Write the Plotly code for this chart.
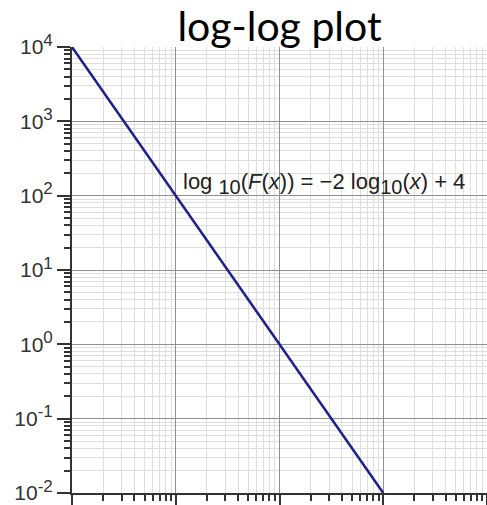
import numpy as np
import plotly.graph_objects as go

# F(x) = 10^4 / x^2 sampled at the decade points
x_vals = [1, 10, 100, 1000]
f_vals = [1e4, 1e2, 1e0, 1e-2]

y_tickvals = [1e-2, 1e-1, 1e0, 1e1, 1e2, 1e3, 1e4]
y_exponents = ["-2", "-1", "0", "1", "2", "3", "4"]
y_ticktext = ["10<sup><span style='font-size:17px'>%s</span></sup>" % e for e in y_exponents]


def sub(s):
    return "<sub><span style='font-size:20px'>%s</span></sub>" % s


eq_text = ("log " + sub("10") + "(<i>F</i>(<i>x</i>)) = −2 log" + sub("10")
           + "(<i>x</i>) + 4")

fig = go.Figure()
fig.add_trace(go.Scatter(x=x_vals, y=f_vals, mode="lines",
                         line=dict(color="#1f1f8f", width=2.5), showlegend=False))

fig.add_annotation(x=np.log10(11.2), y=np.log10(148), xref="x", yref="y",
                   text=eq_text, showarrow=False, xanchor="left",
                   font=dict(family="Liberation Sans", size=22, color="#222"))

grid_major = "#909090"
grid_minor = "#dedede"

fig.update_xaxes(type="log", range=[0, 4], dtick=1, showticklabels=False,
                 ticks="outside", ticklen=12, tickwidth=1.5, tickcolor="#333",
                 showgrid=True, gridcolor=grid_major, gridwidth=1, automargin=False,
                 showline=True, linecolor="#333", linewidth=2, zeroline=False,
                 minor=dict(dtick="D1", ticks="outside", ticklen=6, tickcolor="#333",
                            showgrid=True, gridcolor=grid_minor, gridwidth=1))
fig.update_yaxes(type="log", range=[-2, 4], tickvals=y_tickvals, ticktext=y_ticktext,
                 ticks="outside", ticklen=13, tickwidth=1.5, tickcolor="#333",
                 showgrid=True, gridcolor=grid_major, gridwidth=1, automargin=False,
                 showline=True, linecolor="#333", linewidth=2, zeroline=False,
                 tickfont=dict(family="Liberation Sans", size=21, color="#333"),
                 minor=dict(dtick="D1", ticks="outside", ticklen=6, tickcolor="#333",
                            showgrid=True, gridcolor=grid_minor, gridwidth=1))

fig.update_layout(
    width=487, height=505,
    margin=dict(l=72, r=0, t=47, b=12),
    plot_bgcolor="white", paper_bgcolor="white",
    title=dict(text="log-log plot", x=0.5, xref="paper", xanchor="center",
               y=0.947, yanchor="middle",
               font=dict(family="Lato", size=41, color="black")),
)

fig.write_html("out.html", config={"displayModeBar": False},
               post_script="document.body.style.margin='0';")
